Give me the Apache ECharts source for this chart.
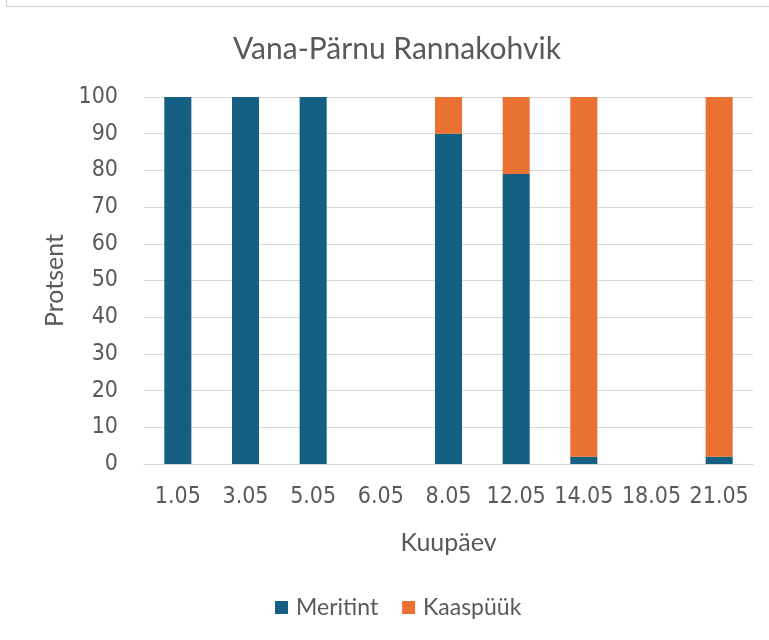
<!DOCTYPE html>
<html><head><meta charset="utf-8">
<script src="https://cdn.jsdelivr.net/npm/echarts@6/dist/echarts.min.js"></script>
<style>html,body{margin:0;padding:0;background:#fff}#c{width:769px;height:640px}</style>
</head><body><div id="c"></div>
<script>
const categories = ['1.05','3.05','5.05','6.05','8.05','12.05','14.05','18.05','21.05'];
const meritint = [100,100,100,0,90,79,2,0,2];
const kaaspuuk = [0,0,0,0,10,21,98,0,98];
const yTicks = {min:0,max:100,interval:10};
const FONT = 'Lato';
const NARROW = '"Liberation Sans Narrow","DejaVu Sans Condensed",Roboto';
const TXT = '#595959';
const chart = echarts.init(document.getElementById('c'));
chart.setOption({
  animation:false,
  textStyle:{fontFamily:FONT},
  title:{text:'Vana-Pärnu Rannakohvik',left:228,top:29,textStyle:{fontFamily:FONT,fontSize:30,fontWeight:'normal',color:TXT}},
  grid:{left:144,right:16,top:97,bottom:176},
  legend:{bottom:16,left:270,itemWidth:13,itemHeight:13,itemGap:24,icon:'rect',textStyle:{fontFamily:FONT,fontSize:23,color:TXT,padding:[0,0,0,3]},data:['Meritint','Kaaspüük']},
  xAxis:{type:'category',data:categories,name:'Kuupäev',nameLocation:'middle',nameGap:66,
    nameTextStyle:{fontFamily:FONT,fontSize:25,color:TXT},
    axisTick:{show:false},axisLine:{show:true,lineStyle:{color:'#d9d9d9'}},
    axisLabel:{fontFamily:NARROW,fontSize:23,color:TXT,margin:22,interval:0}},
  yAxis:{type:'value',min:yTicks.min,max:yTicks.max,interval:yTicks.interval,name:'Protsent',nameLocation:'middle',nameGap:76,
    nameTextStyle:{fontFamily:FONT,fontSize:25,color:TXT},
    axisLine:{show:false},axisTick:{show:false},
    splitLine:{lineStyle:{color:'#d9d9d9'}},
    axisLabel:{fontFamily:NARROW,fontSize:23,color:TXT,margin:26}},
  series:[
    {name:'Meritint',type:'bar',stack:'a',data:meritint,barWidth:'40%',itemStyle:{color:'#156082'}},
    {name:'Kaaspüük',type:'bar',stack:'a',data:kaaspuuk,barWidth:'40%',itemStyle:{color:'#E97132'}}
  ],
  graphic:[{type:'polyline',shape:{points:[[6.5,0],[6.5,6.5],[769,6.5]]},style:{stroke:'#d0d0d0',lineWidth:1,fill:null}}]
});
</script></body></html>
